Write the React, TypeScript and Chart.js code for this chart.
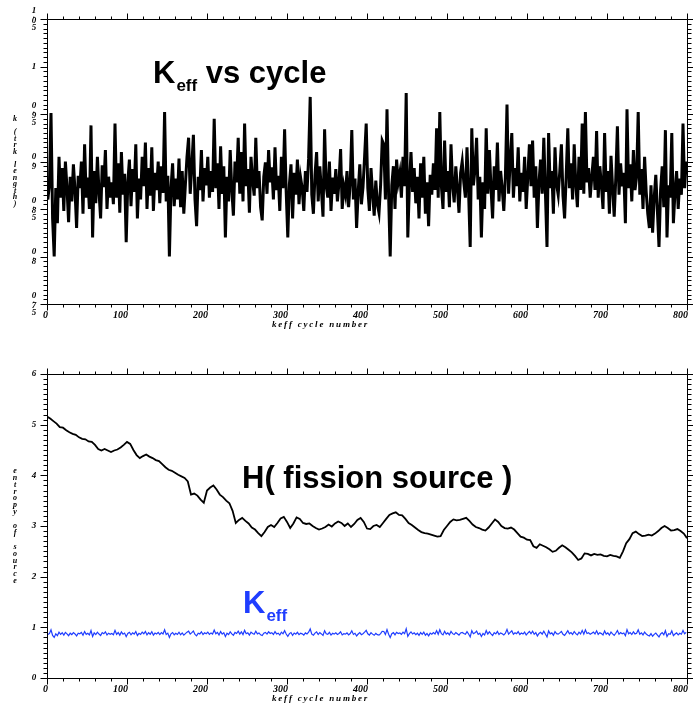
import React, { useEffect, useRef } from "react";
import { Chart, registerables } from "chart.js";

Chart.register(...registerables);

// ---------------- DATA ----------------
// keff per cycle, sampled every 2nd cycle starting at cycle 1
// (black in the top panel, blue in the bottom panel)
const keffFirstCycle = 1;
const keffCycleStep = 2;
const keffValues = [
  0.86,0.875,0.951,0.84,0.80,0.872,0.835,0.905,0.862,0.893,0.848,0.90,0.872,0.836,0.884,0.858,0.897,0.87,0.83,0.885,
  0.872,0.90,0.845,0.918,0.862,0.883,0.85,0.938,0.82,0.89,0.856,0.905,0.868,0.84,0.896,0.873,0.912,0.85,0.884,0.862,
  0.878,0.855,0.94,0.862,0.898,0.846,0.91,0.865,0.887,0.815,0.878,0.902,0.853,0.892,0.868,0.918,0.84,0.882,0.86,0.905,
  0.874,0.92,0.85,0.893,0.864,0.915,0.848,0.888,0.87,0.9,0.856,0.895,0.867,0.952,0.858,0.885,0.80,0.872,0.898,0.853,
  0.882,0.86,0.903,0.852,0.89,0.845,0.876,0.905,0.925,0.866,0.895,0.928,0.86,0.832,0.884,0.87,0.912,0.858,0.893,0.875,
  0.905,0.862,0.89,0.868,0.945,0.872,0.898,0.85,0.916,0.866,0.895,0.82,0.884,0.858,0.912,0.87,0.843,0.9,0.878,0.925,
  0.866,0.91,0.858,0.94,0.874,0.892,0.846,0.905,0.88,0.864,0.925,0.872,0.89,0.852,0.838,0.884,0.899,0.866,0.912,0.878,
  0.894,0.86,0.915,0.87,0.885,0.848,0.905,0.872,0.934,0.868,0.82,0.876,0.897,0.84,0.888,0.865,0.902,0.855,0.883,0.872,
  0.848,0.89,0.868,0.903,0.968,0.865,0.845,0.886,0.91,0.858,0.895,0.87,0.842,0.934,0.874,0.862,0.9,0.848,0.883,0.866,
  0.892,0.858,0.878,0.913,0.85,0.874,0.865,0.89,0.852,0.877,0.933,0.86,0.882,0.83,0.868,0.897,0.855,0.873,0.905,0.94,
  0.872,0.848,0.893,0.866,0.843,0.88,0.855,0.846,0.875,0.922,0.918,0.86,0.955,0.865,0.80,0.875,0.895,0.85,0.902,0.878,
  0.888,0.862,0.905,0.874,0.972,0.82,0.875,0.91,0.868,0.893,0.856,0.884,0.84,0.898,0.862,0.905,0.845,0.878,0.832,0.886,
  0.865,0.898,0.87,0.935,0.862,0.952,0.874,0.85,0.922,0.868,0.89,0.852,0.918,0.875,0.857,0.895,0.872,0.846,0.888,0.9,
  0.878,0.862,0.915,0.868,0.81,0.935,0.875,0.892,0.925,0.86,0.884,0.82,0.878,0.85,0.935,0.866,0.912,0.872,0.84,0.895,
  0.87,0.92,0.858,0.89,0.872,0.848,0.884,0.96,0.866,0.9,0.93,0.862,0.893,0.874,0.915,0.858,0.888,0.868,0.905,0.85,
  0.884,0.918,0.874,0.922,0.862,0.895,0.83,0.878,0.902,0.866,0.925,0.868,0.81,0.93,0.872,0.89,0.845,0.915,0.876,0.865,
  0.89,0.918,0.864,0.84,0.885,0.935,0.872,0.898,0.86,0.918,0.876,0.852,0.905,0.87,0.94,0.866,0.952,0.878,0.893,0.862,
  0.884,0.905,0.87,0.932,0.862,0.895,0.876,0.85,0.93,0.868,0.89,0.845,0.906,0.872,0.842,0.883,0.937,0.865,0.898,0.874,
  0.888,0.835,0.955,0.872,0.897,0.858,0.912,0.87,0.884,0.952,0.865,0.892,0.85,0.905,0.868,0.845,0.83,0.875,0.825,0.862,
  0.886,0.848,0.81,0.87,0.895,0.852,0.933,0.82,0.875,0.862,0.93,0.835,0.868,0.89,0.85,0.882,0.865,0.94,0.872,0.9,
];

// entropy of fission source (bottom panel, black), every 4 cycles from 0
const entropyCycleStep = 4;
const entropyValues = [
  5.16,5.12,5.07,5.02,4.95,4.94,4.89,4.85,4.82,4.80,
  4.75,4.72,4.71,4.67,4.66,4.60,4.52,4.49,4.52,4.49,
  4.46,4.49,4.51,4.55,4.60,4.66,4.62,4.50,4.40,4.34,
  4.38,4.41,4.37,4.34,4.30,4.28,4.22,4.16,4.11,4.09,
  4.05,4.01,3.98,3.95,3.88,3.62,3.64,3.60,3.52,3.46,
  3.70,3.76,3.80,3.72,3.62,3.57,3.50,3.45,3.30,3.06,
  3.12,3.16,3.10,3.05,2.97,2.93,2.86,2.80,2.88,2.98,
  3.02,2.98,3.06,3.15,3.18,3.08,2.96,3.05,3.17,3.14,
  3.06,3.04,3.05,3.00,2.96,2.93,2.95,2.98,3.03,2.99,
  3.05,3.09,3.06,3.00,3.05,2.98,3.04,3.12,3.16,3.08,
  2.95,2.94,3.00,3.02,2.98,3.06,3.14,3.22,3.25,3.27,
  3.22,3.21,3.14,3.06,3.02,2.97,2.92,2.88,2.86,2.85,
  2.83,2.81,2.79,2.80,2.92,3.00,3.08,3.13,3.11,3.12,
  3.14,3.16,3.10,3.03,2.98,2.96,2.93,2.91,2.97,3.05,
  3.13,3.08,3.00,2.96,2.95,2.97,2.93,2.86,2.79,2.77,
  2.73,2.72,2.60,2.57,2.64,2.61,2.58,2.54,2.49,2.51,
  2.57,2.62,2.58,2.53,2.48,2.41,2.33,2.36,2.46,2.45,
  2.42,2.45,2.43,2.44,2.41,2.40,2.43,2.41,2.40,2.37,
  2.50,2.66,2.74,2.86,2.89,2.84,2.80,2.81,2.83,2.81,
  2.85,2.90,2.96,3.00,2.96,2.91,2.92,2.94,2.90,2.85,
  2.76,
];

// axis ticks / labels
const xTickValues = [0, 100, 200, 300, 400, 500, 600, 700, 800];
const xTickLabels = ["0", "100", "200", "300", "400", "500", "600", "700", "800"];
const topYTickValues = [0.75, 0.8, 0.85, 0.9, 0.95, 1, 1.05];
const topYTickLabels = ["0.75", "0.8", "0.85", "0.9", "0.95", "1", "1.05"];
const bottomYTickValues = [0, 1, 2, 3, 4, 5, 6];
const bottomYTickLabels = ["0", "1", "2", "3", "4", "5", "6"];

const xAxisTitle = "keff cycle number";
const topYAxisTitle = "k (trk length)";
const bottomYAxisTitle = "entropy of source";

// ---------------- helpers ----------------
const SMALL_FONT = 'italic bold 9px "Liberation Serif", "DejaVu Serif", serif';
const TICK_FONT = 'italic bold 10px "Liberation Serif", "DejaVu Serif", serif';
const BIG_FONT = (px: number) => `bold ${px}px "Liberation Sans", Arial, Helvetica, sans-serif`;

function drawStack(ctx: CanvasRenderingContext2D, text: string, cx: number, cy: number, adv: (c: string) => number) {
  const chars = Array.from(text);
  const total = chars.reduce((s, c) => s + adv(c), 0);
  let y = cy - total / 2;
  ctx.textAlign = "center";
  ctx.textBaseline = "middle";
  for (const ch of chars) {
    const a = adv(ch);
    if (ch !== " ") ctx.fillText(ch, cx, y + a / 2);
    y += a;
  }
}

function drawSpaced(ctx: CanvasRenderingContext2D, text: string, x: number, y: number, spacing: number) {
  ctx.textAlign = "left";
  let cx = x;
  for (const ch of Array.from(text)) {
    ctx.fillText(ch, cx, y);
    cx += ctx.measureText(ch).width + spacing;
  }
}

type AxesCfg = {
  yTicks: number[];
  yLabels: string[];
  yMinorStep: number;
  yTitle: string;
  yTitleAdv: number;
  drawTitles: (ctx: CanvasRenderingContext2D) => void;
};

function makeAxesPlugin(cfg: AxesCfg) {
  return {
    id: "frameAxes",
    afterDraw(chart: any) {
      const ctx: CanvasRenderingContext2D = chart.ctx;
      const { left, right, top, bottom } = chart.chartArea;
      const xs = chart.scales.x;
      const ys = chart.scales.y;
      const L = Math.round(left) + 0.5;
      const R = Math.round(right) + 0.5;
      const T = Math.round(top) + 0.5;
      const B = Math.round(bottom) + 0.5;
      ctx.save();
      ctx.strokeStyle = "#000";
      ctx.lineWidth = 1;
      ctx.beginPath();
      ctx.moveTo(L, T);
      ctx.lineTo(R, T);
      ctx.lineTo(R, B);
      ctx.lineTo(L, B);
      ctx.closePath();
      ctx.stroke();

      // x ticks (major every 100, minor every 20)
      ctx.beginPath();
      for (let k = 0; ; k++) {
        const v = xs.min + k * 20;
        if (v > xs.max + 1e-9) break;
        const major = k % 5 === 0;
        const px = Math.round(xs.getPixelForValue(v)) + 0.5;
        const len = major ? 6 : 3;
        ctx.moveTo(px, B);
        ctx.lineTo(px, B + len);
        ctx.moveTo(px, T);
        ctx.lineTo(px, T - len);
      }
      // y ticks
      const nMinor = Math.round((ys.max - ys.min) / cfg.yMinorStep);
      for (let k = 0; k <= nMinor; k++) {
        const v = ys.min + k * cfg.yMinorStep;
        const major = k % 10 === 0;
        const py = Math.round(ys.getPixelForValue(v)) + 0.5;
        const len = major ? 7 : 4;
        ctx.moveTo(L - len, py);
        ctx.lineTo(L, py);
        ctx.moveTo(R, py);
        ctx.lineTo(R + len, py);
      }
      ctx.stroke();

      ctx.fillStyle = "#000";
      // x tick labels
      ctx.font = TICK_FONT;
      ctx.textAlign = "right";
      ctx.textBaseline = "middle";
      xTickValues.forEach((v, i) => {
        const px = xs.getPixelForValue(v);
        ctx.fillText(xTickLabels[i], px + 1, bottom + 11);
      });
      // x title
      ctx.font = SMALL_FONT;
      ctx.textBaseline = "middle";
      drawSpaced(ctx, xAxisTitle, 272, bottom + 21, 1.8);

      // y tick labels (stacked characters)
      ctx.font = SMALL_FONT;
      cfg.yTicks.forEach((v, i) => {
        const py = ys.getPixelForValue(v);
        drawStack(ctx, cfg.yLabels[i], 34, py, (c) => (c === "." ? 3 : 7));
      });
      // y title stacked
      ctx.font = 'italic bold 8px "Liberation Serif", "DejaVu Serif", serif';
      drawStack(ctx, cfg.yTitle, 15, (top + bottom) / 2, () => cfg.yTitleAdv);

      cfg.drawTitles(ctx);
      ctx.restore();
    },
  };
}

function drawKTitle(ctx: CanvasRenderingContext2D, x: number, y: number, big: number, sub: number, suffix: string, color: string) {
  ctx.fillStyle = color;
  ctx.textAlign = "left";
  ctx.textBaseline = "alphabetic";
  ctx.font = BIG_FONT(big);
  ctx.fillText("K", x, y);
  let cx = x + ctx.measureText("K").width + 1;
  ctx.font = BIG_FONT(sub);
  ctx.fillText("eff", cx, y + 8);
  cx += ctx.measureText("eff").width;
  if (suffix) {
    ctx.font = BIG_FONT(big);
    ctx.fillText(suffix, cx, y);
  }
}

export default function App() {
  const topRef = useRef<HTMLCanvasElement>(null);
  const botRef = useRef<HTMLCanvasElement>(null);

  useEffect(() => {
    const keffPoints = keffValues.map((v, i) => ({ x: keffFirstCycle + i * keffCycleStep, y: v }));
    const entropyPoints = entropyValues.map((v, i) => ({ x: i * entropyCycleStep, y: v }));

    const common = {
      responsive: false,
      maintainAspectRatio: false,
      animation: false as const,
      devicePixelRatio: 1,
      events: [] as any[],
      plugins: { legend: { display: false }, tooltip: { enabled: false }, title: { display: false } },
    };

    const top = new Chart(topRef.current!, {
      type: "line",
      data: {
        datasets: [
          { data: keffPoints, borderColor: "#000", borderWidth: 3, pointRadius: 0, tension: 0, fill: false },
        ],
      },
      options: {
        ...common,
        layout: { padding: { left: 47, right: 6, top: 19, bottom: 36 } },
        scales: {
          x: { type: "linear", min: 0, max: 800, display: false },
          y: { type: "linear", min: 0.75, max: 1.05, display: false },
        },
      } as any,
      plugins: [
        makeAxesPlugin({
          yTicks: topYTickValues,
          yLabels: topYTickLabels,
          yMinorStep: 0.005,
          yTitle: topYAxisTitle,
          yTitleAdv: 6.5,
          drawTitles: (ctx) => drawKTitle(ctx, 153, 83, 31, 17, " vs cycle", "#000"),
        }),
      ],
    });

    const bot = new Chart(botRef.current!, {
      type: "line",
      data: {
        datasets: [
          { data: entropyPoints, borderColor: "#000", borderWidth: 1.8, pointRadius: 0, tension: 0, fill: false },
          { data: keffPoints, borderColor: "#1f3dff", borderWidth: 1.2, pointRadius: 0, tension: 0, fill: false },
        ],
      },
      options: {
        ...common,
        layout: { padding: { left: 47, right: 6, top: 34, bottom: 28 } },
        scales: {
          x: { type: "linear", min: 0, max: 800, display: false },
          y: { type: "linear", min: 0, max: 6, display: false },
        },
      } as any,
      plugins: [
        makeAxesPlugin({
          yTicks: bottomYTickValues,
          yLabels: bottomYTickLabels,
          yMinorStep: 0.1,
          yTitle: bottomYAxisTitle,
          yTitleAdv: 6.9,
          drawTitles: (ctx) => {
            ctx.fillStyle = "#000";
            ctx.textAlign = "left";
            ctx.textBaseline = "alphabetic";
            ctx.font = BIG_FONT(31);
            ctx.fillText("H( fission source )", 242, 148);
            drawKTitle(ctx, 243, 273, 31, 17, "", "#1f3dff");
          },
        }),
      ],
    });

    return () => {
      top.destroy();
      bot.destroy();
    };
  }, []);

  return (
    <div style={{ position: "absolute", left: 0, top: 0, width: 693, height: 706, background: "#fff" }}>
      <canvas ref={topRef} width={693} height={340} style={{ position: "absolute", left: 0, top: 0, width: 693, height: 340 }} />
      <canvas ref={botRef} width={693} height={366} style={{ position: "absolute", left: 0, top: 340, width: 693, height: 366 }} />
    </div>
  );
}
